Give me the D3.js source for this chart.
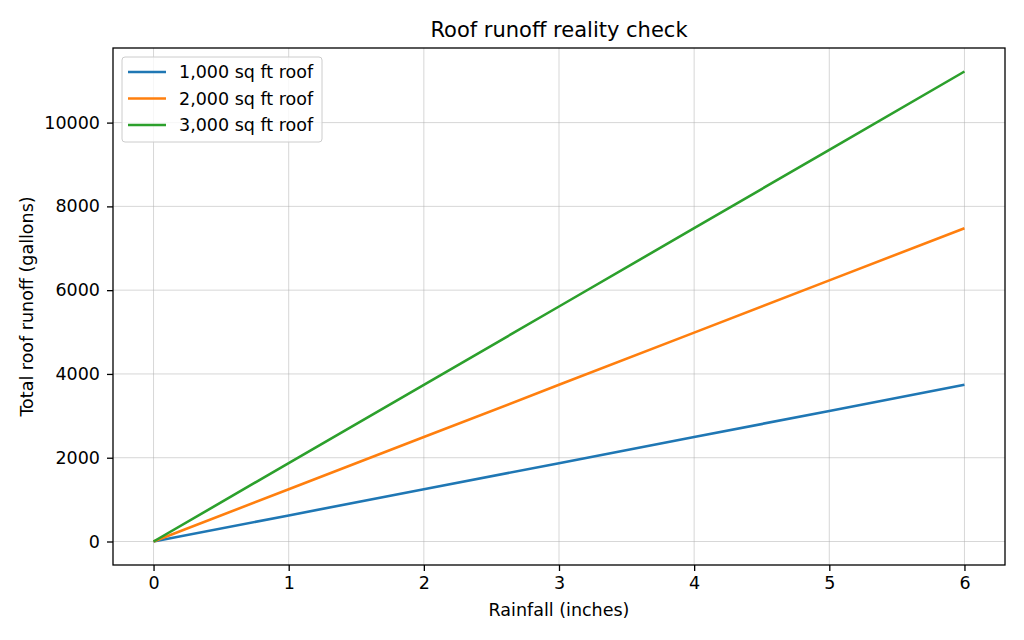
<body style="margin:0;background:#fff">
<svg width="1024" height="640"></svg>
<script src="https://d3js.org/d3.v7.min.js"></script>
<script>
const rainfall = [0, 1, 2, 3, 4, 5, 6];
const roof1000 = [0, 623, 1247, 1870, 2493, 3117, 3740];
const roof2000 = [0, 1247, 2493, 3740, 4987, 6233, 7480];
const roof3000 = [0, 1870, 3740, 5610, 7480, 9350, 11220];
const seriesNames = ["1,000 sq ft roof", "2,000 sq ft roof", "3,000 sq ft roof"];
const seriesColors = ["#1f77b4", "#ff7f0e", "#2ca02c"];
const xTicks = [0, 1, 2, 3, 4, 5, 6];
const yTicks = [0, 2000, 4000, 6000, 8000, 10000];

const svg = d3.select("svg");
const font = "DejaVu Sans, sans-serif";
const fs = "17.5px";
const m = {left: 113, right: 1005, top: 48, bottom: 565};

const x = d3.scaleLinear().domain([-0.3, 6.3]).range([m.left, m.right]);
const yMax = 11220;
const y = d3.scaleLinear().domain([-yMax * 0.05, yMax * 1.05]).range([m.bottom, m.top]);

// grid
const grid = svg.append("g").attr("stroke", "#b0b0b0").attr("stroke-opacity", 0.5).attr("stroke-width", 1);
grid.selectAll(".gx").data(xTicks).enter().append("line")
    .attr("x1", d => x(d)).attr("x2", d => x(d)).attr("y1", m.top).attr("y2", m.bottom);
grid.selectAll(".gy").data(yTicks).enter().append("line")
    .attr("y1", d => y(d)).attr("y2", d => y(d)).attr("x1", m.left).attr("x2", m.right);

// lines
const data = [roof1000, roof2000, roof3000];
const line = d3.line().x((d, i) => x(rainfall[i])).y(d => y(d));
svg.append("g").selectAll("path").data(data).enter().append("path")
    .attr("d", line).attr("fill", "none")
    .attr("stroke", (d, i) => seriesColors[i]).attr("stroke-width", 2.6);

// axes
const xAxis = svg.append("g").attr("transform", `translate(0,${m.bottom})`)
    .call(d3.axisBottom(x).tickValues(xTicks).tickSize(6).tickPadding(6).tickFormat(d3.format("d")));
const yAxis = svg.append("g").attr("transform", `translate(${m.left},0)`)
    .call(d3.axisLeft(y).tickValues(yTicks).tickSize(6).tickPadding(7).tickFormat(d3.format("d")));
[xAxis, yAxis].forEach(a => {
    a.select(".domain").remove();
    a.selectAll("text").style("font-family", font).style("font-size", fs).attr("fill", "#000");
    a.selectAll("line").attr("stroke", "#000").attr("stroke-width", 1.3);
});
svg.append("rect").attr("x", m.left).attr("y", m.top)
    .attr("width", m.right - m.left).attr("height", m.bottom - m.top)
    .attr("fill", "none").attr("stroke", "#000").attr("stroke-width", 1.3);

// labels
svg.append("text").attr("x", (m.left + m.right) / 2).attr("y", 37).attr("text-anchor", "middle")
    .style("font-family", font).style("font-size", "21px").text("Roof runoff reality check");
svg.append("text").attr("x", (m.left + m.right) / 2).attr("y", 616).attr("text-anchor", "middle")
    .style("font-family", font).style("font-size", fs).text("Rainfall (inches)");
svg.append("text").attr("transform", `translate(33,${(m.top + m.bottom) / 2}) rotate(-90)`)
    .attr("text-anchor", "middle")
    .style("font-family", font).style("font-size", fs).text("Total roof runoff (gallons)");

// legend
const legend = svg.append("g").attr("transform", "translate(122,57)");
legend.append("rect").attr("width", 200).attr("height", 85).attr("rx", 3)
    .attr("fill", "#fff").attr("fill-opacity", 0.8).attr("stroke", "#ccc");
seriesNames.forEach((name, i) => {
    const yy = 15 + i * 26.5;
    legend.append("line").attr("x1", 6).attr("x2", 44).attr("y1", yy).attr("y2", yy)
        .attr("stroke", seriesColors[i]).attr("stroke-width", 2.6);
    legend.append("text").attr("x", 57).attr("y", yy + 6)
        .style("font-family", font).style("font-size", fs).text(name);
});
</script>
</body>
